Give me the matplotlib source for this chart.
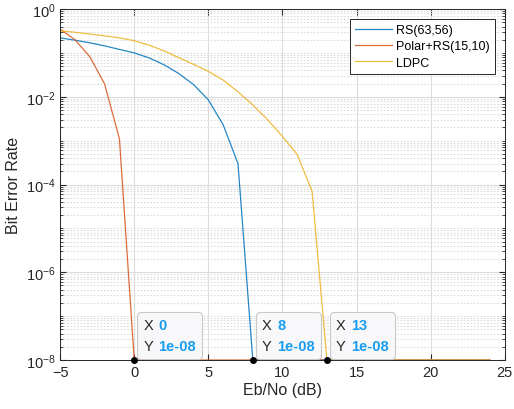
import numpy as np
import matplotlib
matplotlib.use("Agg")
import matplotlib.pyplot as plt
from matplotlib.ticker import LogLocator, NullFormatter, FixedLocator
from matplotlib.offsetbox import TextArea, HPacker, VPacker, AnnotationBbox

plt.rcParams["font.family"] = ["Liberation Sans", "DejaVu Sans"]

# Eb/No grid (dB) and BER curves
ebno = list(range(-5, 25))

ber_rs = [0.22, 0.195, 0.17, 0.145, 0.12, 0.1, 0.077, 0.054, 0.034, 0.019,
          0.0085, 0.0023, 0.0003] + [1e-8] * 17
ber_polar = [0.35, 0.2, 0.082, 0.0196, 0.0011] + [1e-8] * 25
ber_ldpc = [0.32, 0.295, 0.27, 0.245, 0.22, 0.19, 0.15, 0.112, 0.078, 0.055,
            0.038, 0.024, 0.013, 0.0065, 0.0030, 0.00125, 0.00048, 0.00007] + [1e-8] * 12

labels = ["RS(63,56)", "Polar+RS(15,10)", "LDPC"]
colors = ["#0072BD", "#D95319", "#EDB120"]

# data tips
tip_x = [0, 8, 13]
tip_y = [1e-8, 1e-8, 1e-8]
tip_text = ["0", "8", "13"]

fig = plt.figure(figsize=(5.14, 4.10), dpi=100)
ax = fig.add_axes([0.117, 0.1195, 0.865, 0.856])

for y, lab, c in zip([ber_rs, ber_polar, ber_ldpc], labels, colors):
    ax.semilogy(ebno, y, color=c, linewidth=0.9, label=lab, alpha=0.85)

ax.set_xlim(-5, 25)
ax.set_ylim(1e-8, 1)
ax.set_xticks([-5, 0, 5, 10, 15, 20, 25])
ax.yaxis.set_major_locator(FixedLocator([1e-8, 1e-6, 1e-4, 1e-2, 1]))
ax.yaxis.set_minor_locator(LogLocator(base=10, subs=np.arange(1, 10), numticks=20))
ax.yaxis.set_minor_formatter(NullFormatter())

ax.grid(True, which="major", color="#dcdcdc", linewidth=0.8, linestyle="-")
ax.grid(True, which="minor", axis="y", color="#dcdcdc", linewidth=0.8, linestyle=(0, (1.5, 1.5)))
ax.set_axisbelow(True)

ax.tick_params(which="both", direction="in", top=True, right=True,
               colors="#262626", labelsize=10.5, labelcolor="#262626")
ax.tick_params(which="major", length=4)
ax.tick_params(which="minor", length=2)
for s in ax.spines.values():
    s.set_color("#262626")
    s.set_linewidth(0.7)

ax.set_xlabel("Eb/No (dB)", fontsize=11.5, color="#262626", labelpad=2)
ax.set_ylabel("Bit Error Rate", fontsize=11.5, color="#262626", labelpad=3)

leg = ax.legend(loc="upper right", fontsize=9, frameon=True, fancybox=False,
                borderaxespad=0.8, handlelength=3.0, handletextpad=0.3,
                labelspacing=0.35, borderpad=0.4, framealpha=1)
leg.get_frame().set_edgecolor("#262626")
leg.get_frame().set_linewidth(0.7)

plain = dict(fontsize=10.5, color="#262626")
value = dict(fontsize=10.5, color="#1a9cf0", fontweight="bold")
for x, y, t in zip(tip_x, tip_y, tip_text):
    ax.plot(x, y, "o", color="black", markersize=4, zorder=6, clip_on=False)
    row_x = HPacker(children=[TextArea("X", textprops=plain),
                              TextArea(t, textprops=value)], pad=0, sep=4)
    row_y = HPacker(children=[TextArea("Y", textprops=plain),
                              TextArea("1e-08", textprops=value)], pad=0, sep=4)
    tip = VPacker(children=[row_x, row_y], pad=0, sep=5, align="left")
    ab = AnnotationBbox(tip, (x, y), xybox=(6.5, 5), xycoords="data",
                        boxcoords="offset points", box_alignment=(0, 0),
                        pad=0.45, frameon=True, zorder=7,
                        bboxprops=dict(boxstyle="round,pad=0.45,rounding_size=0.3",
                                       fc="#f8f8fa", ec="#c8c8c8", lw=0.8))
    ax.add_artist(ab)

fig.savefig("out.png", dpi=100)
